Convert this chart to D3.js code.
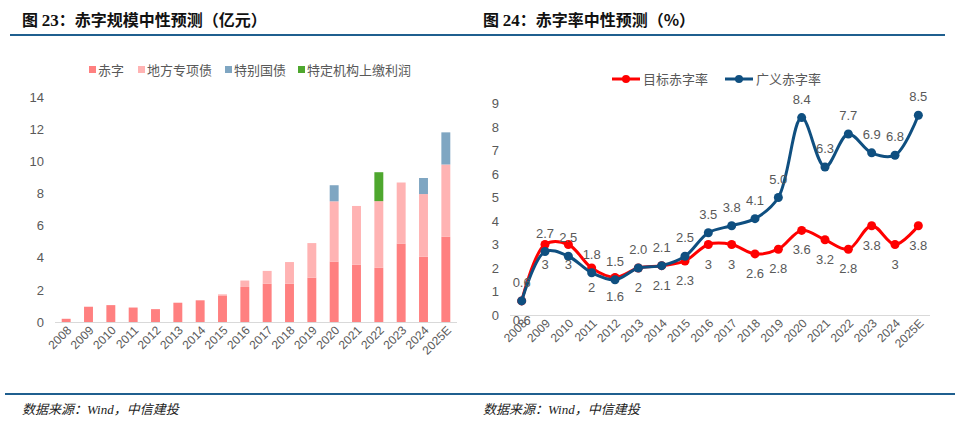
<!DOCTYPE html>
<html><head><meta charset="utf-8">
<script src="https://cdn.jsdelivr.net/npm/d3@7"></script>
<style>
body{margin:0;background:#fff;}
svg{display:block;font-family:"Liberation Sans",Arial,sans-serif;}
</style></head>
<body>
<svg id="c" width="960" height="433"></svg>
<script>
// ---- data ----
const years = ["2008","2009","2010","2011","2012","2013","2014","2015","2016","2017","2018","2019","2020","2021","2022","2023","2024","2025E"];
// left chart (stacked)
const deficit   = [0.2,0.95,1.05,0.9,0.8,1.2,1.35,1.62,2.18,2.38,2.38,2.76,3.76,3.57,3.37,4.88,4.06,5.3];
const localBond = [0,0,0,0,0,0,0,0.1,0.4,0.8,1.35,2.15,3.75,3.65,4.15,3.8,3.9,4.5];
const specialBond=[0,0,0,0,0,0,0,0,0,0,0,0,1.0,0,0,0,1.0,2.0];
const profit    = [0,0,0,0,0,0,0,0,0,0,0,0,0,0,1.8,0,0,0];
const leftSeries = ["赤字","地方专项债","特别国债","特定机构上缴利润"];
const leftTicks = [0,2,4,6,8,10,12,14];
// right chart (lines)
const targetRate = [0.6,3,3,2,1.6,2,2.1,2.3,3,3,2.6,2.8,3.6,3.2,2.8,3.8,3,3.8];
const targetLabels = ["0.6","3","3","2","1.6","2","2.1","2.3","3","3","2.6","2.8","3.6","3.2","2.8","3.8","3","3.8"];
const broadRate = [0.6,2.7,2.5,1.8,1.5,2.0,2.1,2.5,3.5,3.8,4.1,5.0,8.4,6.3,7.7,6.9,6.8,8.5];
const broadLabels = ["0.6","2.7","2.5","1.8","1.5","2.0","2.1","2.5","3.5","3.8","4.1","5.0","8.4","6.3","7.7","6.9","6.8","8.5"];
const rightSeries = ["目标赤字率","广义赤字率"];
const rightTicks = [0,1,2,3,4,5,6,7,8,9];

const svg = d3.select("#c");
const grey = "#595959";
const cjk = "'Noto Sans CJK SC','Liberation Sans',sans-serif";

// titles & rules
function header(x, x0, x1, num, text){
  const t = svg.append("text").attr("x",x).attr("y",26).attr("font-size",16).attr("font-weight","bold")
    .attr("font-family",cjk).attr("fill","#111");
  t.append("tspan").text("图 ");
  t.append("tspan").attr("font-family","'Liberation Serif',serif").attr("font-size",17).text(num);
  t.append("tspan").text(text);
  svg.append("line").attr("x1",x0).attr("x2",x1).attr("y1",35).attr("y2",35)
    .attr("stroke","#1f5f8f").attr("stroke-width",2.2);
}
header(22,10,480,"23","：赤字规模中性预测（亿元）");
header(483,480,945,"24","：赤字率中性预测（%）");
svg.append("line").attr("x1",5).attr("x2",955).attr("y1",394).attr("y2",394)
  .attr("stroke","#1f5f8f").attr("stroke-width",2.2);
[22,483].forEach(x=>svg.append("text").attr("x",x).attr("y",414).attr("font-size",13)
  .attr("font-style","italic").attr("font-family","'Liberation Serif',"+cjk).attr("fill","#222")
  .text("数据来源：Wind，中信建投"));

// ---- left chart ----
const colors = ["#ff8080","#ffb3b3","#7fa6c2","#4ea72e"];
const xL = d3.scaleBand().domain(years).range([55,457]).paddingInner(0.6).paddingOuter(0.3);
const yL = d3.scaleLinear().domain([0,14]).range([322,97]);
const gL = svg.append("g");
const stackData = years.map((y,i)=>({year:y,"赤字":deficit[i],"地方专项债":localBond[i],"特别国债":specialBond[i],"特定机构上缴利润":profit[i]}));
const stacked = d3.stack().keys(leftSeries)(stackData);
gL.selectAll("g.s").data(stacked).join("g").attr("fill",(d,i)=>colors[i])
  .selectAll("rect").data(d=>d).join("rect")
  .attr("x",d=>xL(d.data.year)).attr("width",xL.bandwidth())
  .attr("y",d=>yL(d[1])).attr("height",d=>Math.max(0,yL(d[0])-yL(d[1])));
gL.append("line").attr("x1",55).attr("x2",457).attr("y1",yL(0)+0.5).attr("y2",yL(0)+0.5).attr("stroke","#d9d9d9");
const axL = gL.append("g").attr("transform","translate(44,0)")
  .call(d3.axisLeft(yL).tickValues(leftTicks).tickSize(0).tickPadding(0));
axL.select(".domain").remove();
axL.selectAll("text").attr("font-size",13).attr("fill",grey).attr("font-family","'Liberation Sans',Arial,sans-serif");
const axLx = gL.append("g").attr("transform",`translate(0,${yL(0)})`)
  .call(d3.axisBottom(xL).tickSize(0).tickPadding(0));
axLx.select(".domain").remove();
axLx.selectAll("text").attr("font-size",12).attr("fill",grey).attr("font-family","'Liberation Sans',Arial,sans-serif")
  .attr("text-anchor","end").attr("dy",0).attr("transform","translate(6,9) rotate(-45)");
// legend left
const legX = [89,138,225,298];
leftSeries.forEach((s,i)=>{
  svg.append("rect").attr("x",legX[i]).attr("y",66).attr("width",7).attr("height",7).attr("fill",colors[i]);
  svg.append("text").attr("x",legX[i]+9).attr("y",74.5).attr("font-size",13).attr("fill",grey)
    .attr("font-family",cjk).text(s);
});

// ---- right chart ----
const xR = d3.scaleBand().domain(years).range([510,930]);
const cx = d=>xR(d)+xR.bandwidth()/2;
const yR = d3.scaleLinear().domain([0,9]).range([315,103.5]);
const gR = svg.append("g");
gR.append("line").attr("x1",510).attr("x2",930).attr("y1",yR(0)+0.5).attr("y2",yR(0)+0.5).attr("stroke","#d9d9d9");
const axR = gR.append("g").attr("transform","translate(499,0)")
  .call(d3.axisLeft(yR).tickValues(rightTicks).tickSize(0).tickPadding(0));
axR.select(".domain").remove();
axR.selectAll("text").attr("font-size",13).attr("fill",grey).attr("font-family","'Liberation Sans',Arial,sans-serif");
const axRx = gR.append("g").attr("transform",`translate(0,${yR(0)})`)
  .call(d3.axisBottom(xR).tickSize(0).tickPadding(0));
axRx.select(".domain").remove();
axRx.selectAll("text").attr("font-size",12).attr("fill",grey).attr("font-family","'Liberation Sans',Arial,sans-serif")
  .attr("text-anchor","end").attr("dy",0).attr("transform","translate(6,9) rotate(-45)");

const lineColors = ["#ff0000","#0f4f80"];
const line = d3.line().x((d,i)=>cx(years[i])).y(d=>yR(d)).curve(d3.curveCatmullRom.alpha(0.5));
[targetRate,broadRate].forEach((arr,k)=>{
  gR.append("path").datum(arr).attr("d",line).attr("fill","none").attr("stroke",lineColors[k]).attr("stroke-width",3);
  gR.selectAll(null).data(arr).join("circle").attr("cx",(d,i)=>cx(years[i])).attr("cy",d=>yR(d)).attr("r",4.5).attr("fill",lineColors[k]);
});
// labels
gR.selectAll(null).data(targetRate).join("text")
  .attr("x",(d,i)=>cx(years[i])).attr("y",d=>yR(d)+24).attr("text-anchor","middle")
  .attr("font-size",13).attr("fill",grey).text((d,i)=>targetLabels[i]);
gR.selectAll(null).data(broadRate).join("text")
  .attr("x",(d,i)=>cx(years[i])).attr("y",d=>yR(d)-14).attr("text-anchor","middle")
  .attr("font-size",13).attr("fill",grey).text((d,i)=>broadLabels[i]);
// legend right
const rlx = [612,725];
rightSeries.forEach((s,k)=>{
  svg.append("line").attr("x1",rlx[k]).attr("x2",rlx[k]+28).attr("y1",79).attr("y2",79).attr("stroke",lineColors[k]).attr("stroke-width",3);
  svg.append("circle").attr("cx",rlx[k]+14).attr("cy",79).attr("r",4).attr("fill",lineColors[k]);
  svg.append("text").attr("x",rlx[k]+31).attr("y",84).attr("font-size",13).attr("fill",grey).attr("font-family",cjk).text(s);
});
</script>
</body></html>
